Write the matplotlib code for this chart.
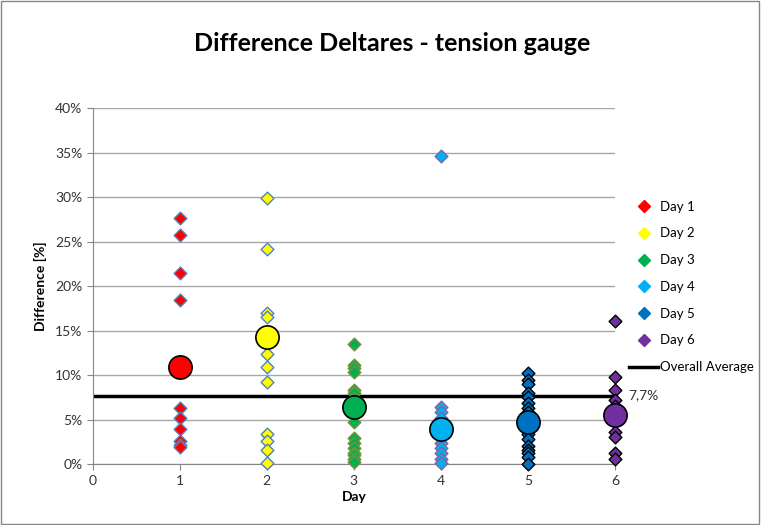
import matplotlib
matplotlib.use("Agg")
import matplotlib.pyplot as plt
from matplotlib.lines import Line2D
from matplotlib.patches import Rectangle
from matplotlib.ticker import FuncFormatter, MultipleLocator

plt.rcParams['font.family'] = ['Lato', 'DejaVu Sans']

days = [1, 2, 3, 4, 5, 6]
labels = ["Day 1", "Day 2", "Day 3", "Day 4", "Day 5", "Day 6"]
day1 = [27.6, 25.7, 21.5, 18.4, 6.3, 5.2, 3.9, 2.6, 2.2, 1.9]
day2 = [29.9, 24.2, 17.0, 16.5, 12.4, 10.9, 9.2, 3.4, 2.6, 1.6, 0.1]
day3 = [13.5, 11.1, 10.8, 10.4, 8.3, 8.0, 7.4, 6.0, 4.7, 2.9, 2.4, 1.8, 1.3, 1.0, 0.6, 0.2]
day4 = [34.6, 6.4, 5.8, 5.2, 4.5, 3.6, 3.0, 2.4, 1.8, 1.2, 0.6, 0.1]
day5 = [10.2, 9.5, 9.0, 8.0, 7.5, 6.9, 6.3, 5.8, 5.2, 4.0, 3.4, 2.8, 2.0, 1.6, 1.2, 0.8, 0.0]
day6 = [16.1, 9.8, 8.3, 7.2, 6.5, 5.0, 3.6, 3.0, 1.2, 0.6]
means = [10.9, 14.3, 6.4, 4.0, 4.7, 5.5]
overall_avg = 7.7

series = [day1, day2, day3, day4, day5, day6]
faces = ["#FF0000", "#FFFF00", "#00B050", "#00B0F0", "#0070C0", "#7030A0"]
edges = ["#4F81BD", "#4F81BD", "#77933C", "#8064A2", "#000000", "#000000"]

fig = plt.figure(figsize=(7.61, 5.25), dpi=100)
ax = fig.add_axes([0.122, 0.116, 0.686, 0.678])

for d, vals, fc, ec in zip(days, series, faces, edges):
    ax.scatter([d] * len(vals), [v / 100 for v in vals], marker='D', s=42,
               facecolor=fc, edgecolor=ec, linewidth=1.0, zorder=3, clip_on=False)

ax.plot([0, 6], [overall_avg / 100, overall_avg / 100], color='black', lw=2.5, zorder=2,
        solid_capstyle='butt')

for d, m, fc in zip(days, means, faces):
    ax.scatter([d], [m / 100], marker='o', s=280, facecolor=fc, edgecolor='black',
               linewidth=1.2, zorder=4, clip_on=False)

ax.text(6.15, overall_avg / 100, "7,7%", fontsize=10, va='center', ha='left', color='#333333')

ax.set_xlim(0, 6)
ax.set_ylim(0, 0.40)
ax.xaxis.set_major_locator(MultipleLocator(1))
ax.yaxis.set_major_locator(MultipleLocator(0.05))
ax.yaxis.set_major_formatter(FuncFormatter(lambda v, p: f"{round(v*100)}%"))
ax.grid(axis='y', color='#A6A6A6', lw=1.0, zorder=0)
ax.set_axisbelow(True)
for s in ['top', 'right']:
    ax.spines[s].set_visible(False)
for s in ['left', 'bottom']:
    ax.spines[s].set_color('#868686')
ax.tick_params(axis='both', colors='#868686', labelcolor='#333333', labelsize=10,
               length=4, direction='out')

ax.set_xlabel("Day", fontsize=10, fontweight='bold', labelpad=3)
ax.set_ylabel("Difference [%]", fontsize=10, fontweight='bold', labelpad=6)
fig.text(0.515, 0.918, "Difference Deltares - tension gauge", fontsize=18,
         fontweight='bold', ha='center', va='center')

handles = [Line2D([], [], marker='D', linestyle='none', markerfacecolor=fc,
                  markeredgecolor=fc, markersize=6) for fc in faces]
handles.append(Line2D([], [], color='black', lw=2.5))
leg = fig.legend(handles, labels + ["Overall Average"], loc='upper left',
                 bbox_to_anchor=(0.820, 0.628), frameon=False, fontsize=9.5,
                 handlelength=2.2, labelspacing=1.12, handletextpad=0.15,
                 borderaxespad=0.0)

fig.add_artist(Rectangle((0.001, 0.001), 0.997, 0.997, transform=fig.transFigure,
                         fill=False, edgecolor='#868686', lw=1.0))

fig.savefig("out.png", dpi=100)
